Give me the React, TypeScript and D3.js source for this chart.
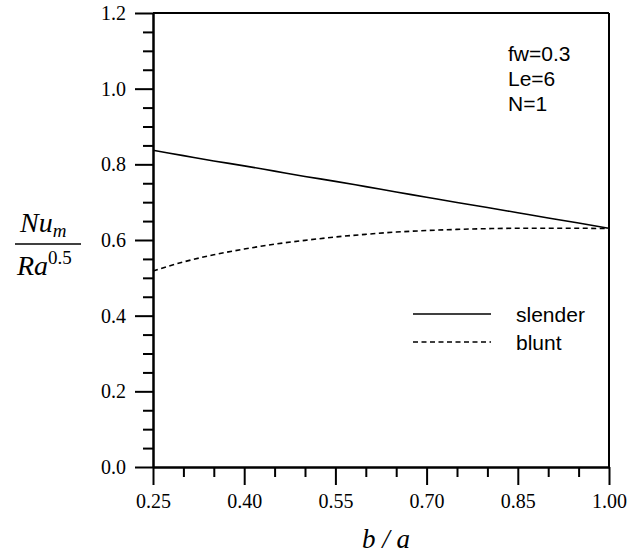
import * as d3 from 'd3';
import { useEffect, useRef } from 'react';

// b/a values and mean Nusselt number curves
const ratio = [0.25, 0.30, 0.35, 0.40, 0.45, 0.50, 0.55, 0.60, 0.65, 0.70, 0.75, 0.80, 0.85, 0.90, 0.95, 1.00];
const slender = [0.837, 0.823, 0.809, 0.796, 0.782, 0.768, 0.755, 0.741, 0.727, 0.713, 0.699, 0.686, 0.672, 0.658, 0.645, 0.631];
const blunt = [0.518, 0.542, 0.561, 0.576, 0.589, 0.599, 0.608, 0.615, 0.621, 0.625, 0.628, 0.630, 0.631, 0.631, 0.631, 0.630];

const xTicks = [0.25, 0.40, 0.55, 0.70, 0.85, 1.00];
const xMinor = [0.30, 0.35, 0.45, 0.50, 0.60, 0.65, 0.75, 0.80, 0.90, 0.95];
const yTicks = [0.0, 0.2, 0.4, 0.6, 0.8, 1.0, 1.2];
const yMinor = [0.05, 0.10, 0.15, 0.25, 0.30, 0.35, 0.45, 0.50, 0.55, 0.65, 0.70, 0.75, 0.85, 0.90, 0.95, 1.05, 1.10, 1.15];

const params = ['fw=0.3', 'Le=6', 'N=1'];
const seriesNames = ['slender', 'blunt'];

const W = 643;
const H = 556;
const margin = { top: 13, right: 34, bottom: 89, left: 153 };
const serif = 'Liberation Serif, Times New Roman, serif';
const sans = 'Liberation Sans, Arial, sans-serif';

export default function App() {
    const svgRef = useRef<SVGSVGElement>(null);

    useEffect(() => {
        const svg = d3.select(svgRef.current);
        svg.selectAll('*').remove();

        const x = d3.scaleLinear().domain([0.25, 1.0]).range([margin.left, W - margin.right]);
        const y = d3.scaleLinear().domain([0, 1.2]).range([H - margin.bottom, margin.top]);

        // frame on top and right
        svg.append('line')
            .attr('x1', x(0.25)).attr('x2', x(1.0))
            .attr('y1', y(1.2)).attr('y2', y(1.2))
            .attr('stroke', '#000').attr('stroke-width', 2);
        svg.append('line')
            .attr('x1', x(1.0)).attr('x2', x(1.0))
            .attr('y1', y(1.2)).attr('y2', y(0))
            .attr('stroke', '#000').attr('stroke-width', 2);

        const styleAxis = (g: any) => {
            g.attr('font-family', serif).attr('font-size', 20);
            g.selectAll('path, line').attr('stroke', '#000').attr('stroke-width', 2);
            g.selectAll('text').attr('fill', '#000');
        };

        // y axis
        svg.append('g')
            .attr('transform', `translate(${margin.left},0)`)
            .call(d3.axisLeft(y).tickValues(yMinor).tickSize(10).tickSizeOuter(0).tickFormat(() => ''))
            .call(styleAxis);
        svg.append('g')
            .attr('transform', `translate(${margin.left},0)`)
            .call(d3.axisLeft(y).tickValues(yTicks).tickSize(18).tickSizeOuter(0).tickPadding(9).tickFormat(d3.format('.1f')))
            .call(styleAxis);

        // x axis
        svg.append('g')
            .attr('transform', `translate(0,${H - margin.bottom})`)
            .call(d3.axisBottom(x).tickValues(xMinor).tickSize(10).tickSizeOuter(0).tickFormat(() => ''))
            .call(styleAxis);
        svg.append('g')
            .attr('transform', `translate(0,${H - margin.bottom})`)
            .call(d3.axisBottom(x).tickValues(xTicks).tickSize(18).tickSizeOuter(0).tickPadding(9).tickFormat(d3.format('.2f')))
            .call(styleAxis);

        // curves
        const line = d3.line<number>()
            .x((_, i) => x(ratio[i]))
            .y(d => y(d))
            .curve(d3.curveMonotoneX);

        svg.append('path')
            .attr('d', line(slender))
            .attr('fill', 'none').attr('stroke', '#000').attr('stroke-width', 1.6);
        svg.append('path')
            .attr('d', line(blunt))
            .attr('fill', 'none').attr('stroke', '#000').attr('stroke-width', 1.6)
            .attr('stroke-dasharray', '5,3.5');

        // parameter block
        svg.append('g')
            .selectAll('text')
            .data(params)
            .join('text')
            .attr('x', 508)
            .attr('y', (_, i) => 61 + i * 25)
            .attr('font-family', sans)
            .attr('font-size', 21)
            .text(d => d);

        // legend
        const legend = svg.append('g');
        seriesNames.forEach((name, i) => {
            const ly = 314 + i * 28;
            legend.append('line')
                .attr('x1', 413).attr('x2', 491)
                .attr('y1', ly).attr('y2', ly)
                .attr('stroke', '#000').attr('stroke-width', 1.6)
                .attr('stroke-dasharray', i === 1 ? '5,3.5' : null);
            legend.append('text')
                .attr('x', 516).attr('y', ly + 8)
                .attr('font-family', sans)
                .attr('font-size', 21)
                .text(name);
        });

        // x title
        svg.append('text')
            .attr('x', 386).attr('y', 548)
            .attr('text-anchor', 'middle')
            .attr('font-family', serif)
            .attr('font-style', 'italic')
            .attr('font-size', 27)
            .text('b / a');

        // y title as a fraction
        const num = svg.append('text')
            .attr('x', 20).attr('y', 232)
            .attr('font-family', serif)
            .attr('font-style', 'italic')
            .attr('font-size', 28);
        num.append('tspan').text('Nu');
        num.append('tspan').attr('font-size', 19).attr('dy', 5).text('m');

        svg.append('line')
            .attr('x1', 15).attr('x2', 81)
            .attr('y1', 244).attr('y2', 244)
            .attr('stroke', '#000').attr('stroke-width', 1.5);

        const den = svg.append('text')
            .attr('x', 17).attr('y', 275)
            .attr('font-family', serif)
            .attr('font-style', 'italic')
            .attr('font-size', 28);
        den.append('tspan').text('Ra');
        den.append('tspan').attr('font-size', 19).attr('font-style', 'normal').attr('dy', -11).text('0.5');
    }, []);

    return (
        <svg
            ref={svgRef}
            width={W}
            height={H}
            style={{ position: 'absolute', left: 0, top: 0, background: '#fff' }}
        />
    );
}
